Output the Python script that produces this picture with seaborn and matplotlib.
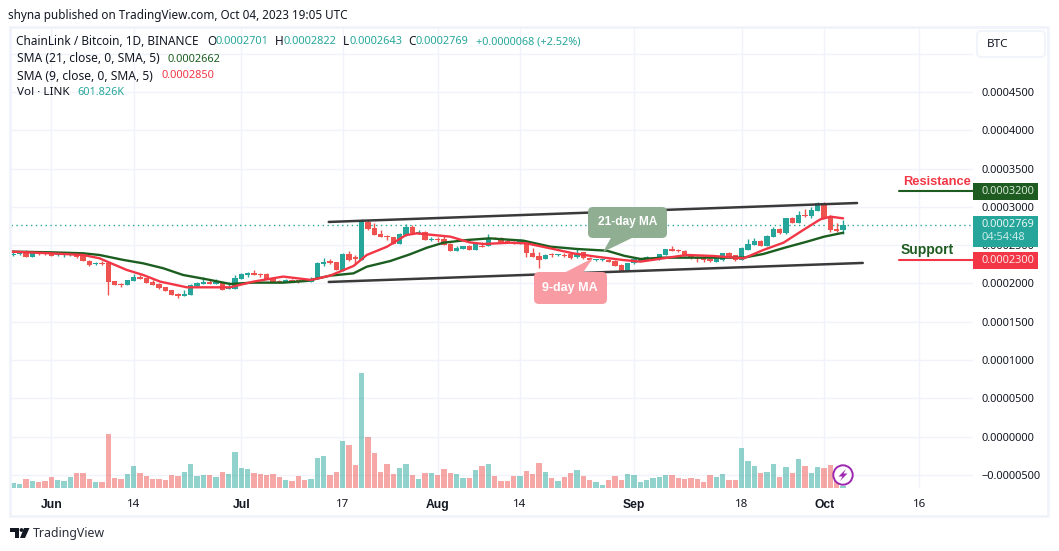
import numpy as np
import pandas as pd
import matplotlib
matplotlib.use("Agg")
import matplotlib.pyplot as plt
from matplotlib.patches import FancyBboxPatch, Polygon, Circle, Rectangle
import seaborn as sns

# prices in units of 1e-7 BTC, one entry per daily candle (26 May - 4 Oct 2023)
opens = [2368,2381,2394,2346,2403,2394,2403,2368,2372,2368,2385,2381,2294,2250,2272,2272,2033,1989,1981,2037,2081,2068,2020,1994,1955,1915,1863,1842,1850,1963,1998,2024,1998,2020,1933,1933,2059,2111,2137,2124,2124,2072,2033,2020,2046,2042,2046,2024,
         2058,2250,2289,2276,2167,2385,2350,2306,2806,2720,2646,2624,2602,2515,2633,2737,2646,2667,2572,2585,2580,2515,2428,2454,2489,2441,2493,2493,2598,2598,2559,2546,2519,2519,2402,2358,2319,2380,2367,2376,2385,2341,2406,2332,2302,2302,2306,2293,2241,2167,
         2263,2298,2307,2315,2315,2376,2446,2437,2428,2376,2337,2328,2320,2285,2307,2394,2367,2311,2437,2507,2554,2489,2611,2707,2654,2855,2794,2894,2885,2950,3046,2872,2707,2701]
highs = [2416,2407,2437,2407,2420,2403,2411,2398,2403,2403,2403,2394,2303,2285,2294,2285,2037,2011,2050,2124,2111,2076,2046,2002,1959,1920,1881,1915,1989,2016,2081,2055,2055,2024,2016,2111,2137,2155,2177,2142,2142,2090,2046,2059,2063,2046,2055,2081,
         2276,2328,2315,2284,2393,2424,2372,2837,2828,2785,2698,2633,2611,2654,2776,2763,2698,2685,2611,2611,2633,2524,2493,2489,2498,2532,2537,2646,2611,2602,2576,2559,2580,2528,2459,2415,2380,2402,2389,2393,2393,2445,2411,2341,2319,2328,2315,2302,2250,2267,
         2324,2328,2359,2346,2389,2454,2489,2446,2437,2380,2359,2337,2333,2337,2398,2407,2376,2472,2576,2589,2568,2628,2733,2720,2855,2872,2942,2968,2994,3059,3059,2894,2794,2822]
lows = [2364,2377,2346,2342,2372,2377,2359,2364,2350,2364,2329,2290,2229,2246,2242,1850,1976,1959,1976,2033,2059,2002,1976,1924,1898,1846,1815,1837,1846,1959,1994,1994,1994,1911,1929,1929,2055,2081,2107,2081,2055,2020,2011,2016,2024,2011,2029,2020,
        2054,2228,2254,2171,2163,2293,2241,2302,2698,2628,2606,2567,2511,2511,2624,2650,2641,2563,2554,2546,2502,2424,2424,2450,2437,2432,2472,2489,2576,2541,2528,2519,2515,2350,2345,2198,2315,2350,2354,2341,2324,2337,2315,2298,2293,2293,2276,2224,2163,2163,
        2259,2289,2302,2311,2311,2372,2424,2407,2363,2320,2276,2285,2280,2280,2298,2346,2298,2307,2433,2502,2489,2485,2607,2646,2650,2785,2785,2872,2850,2946,2855,2672,2676,2643]
closes = [2377,2394,2350,2403,2385,2381,2364,2390,2381,2394,2350,2294,2242,2272,2259,2024,1981,1981,2046,2090,2063,2007,1981,1942,1902,1850,1842,1863,1981,2007,2020,1998,2024,1915,1950,2068,2124,2137,2111,2107,2063,2024,2020,2046,2033,2024,2033,2059,
          2271,2284,2263,2176,2385,2306,2315,2815,2711,2633,2611,2602,2519,2646,2737,2654,2676,2572,2580,2572,2506,2428,2459,2485,2441,2515,2480,2598,2580,2546,2537,2528,2554,2402,2350,2306,2372,2367,2376,2363,2337,2398,2328,2306,2311,2311,2284,2232,2167,2263,
          2315,2315,2341,2333,2385,2446,2428,2420,2372,2328,2320,2307,2289,2328,2394,2350,2307,2459,2511,2559,2494,2620,2707,2654,2850,2794,2894,2885,2959,3046,2859,2698,2689,2769]
# volume in thousands of LINK
volumes = [1500,1200,2700,2100,1800,2100,3300,2400,2100,3300,4500,4500,2700,1800,1800,16200,3000,2700,4200,6600,4500,3600,2700,2700,2400,3900,3600,4800,7200,3600,3900,3900,3300,4800,4200,10800,6000,5700,4500,4200,3900,4200,3300,2400,2100,3600,2400,2700,
           9000,9600,3900,4800,14100,12900,6900,34500,15300,10500,4800,7200,4200,6000,7200,3900,2700,4500,4500,3900,5700,4500,4200,3000,3000,5400,6600,7200,3600,2100,2100,3600,3600,5100,4200,7500,4800,3000,2100,3300,4500,5400,3600,2400,1800,900,2400,3600,
           2400,4200,3900,1800,2400,3000,3300,3900,3900,3000,2700,3000,2700,1800,3900,3300,4200,2400,2400,12000,8100,6600,4500,4800,7200,3300,6300,4500,8700,6600,4500,6300,6000,6900,5400,600]
month_ticks = [6, 19, 36, 52, 67, 80, 98, 115, 128, 143]
month_labels = ["Jun", "14", "Jul", "17", "Aug", "14", "Sep", "18", "Oct", "16"]
bold_labels = ["Jun", "Jul", "Aug", "Sep", "Oct"]

sma21_days = [-0.4,5.8,11,13.6,17.4,20.5,23.7,26.8,30.5,34.2,37.9,42.6,46.3,50,53.7,55.8,59.5,62.6,65.3,67.9,71.6,75.2,80.5,84.8,89,93.7,96.5,99,102.6,106.3,110.5,115.3,118.4,122,125.3,128,131]
sma21_vals = [2416,2407,2394,2372,2307,2263,2198,2111,2055,1994,2011,2011,2033,2102,2132,2219,2293,2380,2467,2532,2567,2589,2559,2480,2450,2428,2360,2320,2337,2337,2337,2337,2385,2472,2546,2611,2662]
sma9_days = [-0.4,5.8,11,13.6,15.2,17.9,20.5,23.2,27.4,34.2,37.9,42.6,47,50,53.7,55.8,59,62,63.7,69,72,74.2,78.4,81,84.8,88.4,92,96.3,99,102.6,106.3,110.5,115.3,118.4,121.6,124.7,127.4,129,131]
sma9_vals = [2416,2394,2372,2329,2272,2177,2111,2024,1950,1950,2024,2090,2046,2102,2228,2372,2480,2632,2654,2611,2537,2515,2532,2524,2458,2393,2350,2306,2285,2328,2372,2359,2328,2437,2533,2698,2837,2872,2850]

channel_days = [49.8, 133.2]
channel_upper = [2803, 3050]
channel_low_days = [49.8, 134.1]
channel_lower = [2020, 2268]
last_price = 2769
price_ticks = list(range(-500, 5001, 500))

W, H = 1059, 551
UP, DOWN = "#26a69a", "#ef5350"
GRID = "#f0f3fa"
INK = "#131722"
FONT = ["Noto Sans", "DejaVu Sans"]
BOLD = ["Liberation Sans", "DejaVu Sans"]

sns.set_theme(style="white")
plt.rcParams["font.family"] = FONT

df = pd.DataFrame({"day": np.arange(len(opens)), "open": opens, "high": highs, "low": lows,
                   "close": closes, "volume": volumes})
df["dir"] = np.where(df["close"] >= df["open"], "up", "down")

fig = plt.figure(figsize=(W / 100, H / 100), dpi=100, facecolor="white")
L, R, T, B = 11, 973, 27, 488
ax = fig.add_axes([L / W, 1 - B / H, (R - L) / W, (B - T) / H])
ax.set_facecolor("white")
for s in ax.spines.values():
    s.set_visible(False)
xlim = (-0.36, 151.5)
ax.set_ylim(-669, 5347)

# grid
ax.set_axisbelow(True)
ax.grid(True, color=GRID, lw=1)

# candles
colors = df["dir"].map({"up": UP, "down": DOWN})
ax.vlines(df["day"], df["low"], df["high"], colors=colors, lw=1, zorder=3)
ax.bar(df["day"], (df["close"] - df["open"]).abs().clip(lower=12), bottom=df[["open", "close"]].min(axis=1),
       width=0.85, color=colors, zorder=4, linewidth=0)

# moving averages
sns.lineplot(x=sma21_days, y=sma21_vals, color="#1b5e20", lw=1.7, ax=ax, zorder=5, estimator=None, sort=False)
sns.lineplot(x=sma9_days, y=sma9_vals, color="#f23645", lw=1.7, ax=ax, zorder=5, estimator=None, sort=False)

# channel and last-price line
sns.lineplot(x=channel_days, y=channel_upper, color="#3a3a3a", lw=1.8, ax=ax, zorder=6, estimator=None)
sns.lineplot(x=channel_low_days, y=channel_lower, color="#3a3a3a", lw=1.8, ax=ax, zorder=6, estimator=None)
ax.axhline(last_price, color=UP, lw=1, ls=(0, (1, 2.5)), zorder=2)

# volume on its own hidden scale
axv = ax.twinx()
sns.barplot(data=df, x="day", y="volume", hue="dir", palette={"up": UP, "down": DOWN}, native_scale=True,
            dodge=False, width=0.85, saturation=1, alpha=0.5, legend=False, ax=axv, linewidth=0)
axv.set_ylim(0, 138300)
axv.set_yticks([])
axv.set_ylabel("")
axv.set_xlabel("")
for s in axv.spines.values():
    s.set_visible(False)
ax.set_xlim(*xlim)
axv.set_xlim(*xlim)

# ticks (after twinx, which would move them)
def fmt(v):
    if v == 5000:
        return ""
    s = f"{abs(v) * 1e-7:.7f}"
    return ("\u2212" + s) if v < 0 else s
ax.yaxis.tick_right()
ax.set_yticks(price_ticks)
ax.set_yticklabels([fmt(v) for v in price_ticks], fontsize=7.9, color=INK)
ax.tick_params(axis="y", length=0, pad=5.8, right=False, labelright=True, labelleft=False)
ax.set_xticks(month_ticks)
ax.set_xticklabels(month_labels, fontsize=8.3, color=INK)
ax.tick_params(axis="x", length=0, pad=8)
for lab in ax.get_xticklabels():
    if lab.get_text() in bold_labels:
        lab.set_fontweight("bold")
        lab.set_fontfamily(BOLD)
        lab.set_fontsize(8.7)
ax.set_xlabel("")
ax.set_ylabel("")

# overlay in picture pixels: frame, labels, callouts
ov = fig.add_axes([0, 0, 1, 1], zorder=10)
ov.set_xlim(0, W)
ov.set_ylim(H, 0)
ov.axis("off")
ov.patch.set_alpha(0)

ov.add_patch(Rectangle((10, 26.5), 1038, 489, fill=False, ec=GRID, lw=2))

def label(x, y, s, color=INK, size=8.6, weight="normal", ha="left", z=3):
    fam = BOLD if weight == "bold" else FONT
    ov.text(x, y, s, color=color, fontsize=size, fontweight=weight, ha=ha, va="center", zorder=z, family=fam)

label(8, 15, "shyna published on TradingView.com, Oct 04, 2023 19:05 UTC", size=8.45)
label(16, 41.5, "ChainLink / Bitcoin, 1D, BINANCE", size=8.5)
for x, head, val in [(207, "O", "0.0002701"), (275, "H", "0.0002822"), (343, "L", "0.0002643"), (408, "C", "0.0002769")]:
    label(x, 41.5, head, size=8.5)
    label(x + 8 - (2 if head == "L" else 0), 41.5, val, color=UP, size=7.9)
label(476, 41.5, "+0.0000068 (+2.52%)", color=UP, size=7.85)
label(17, 59, "SMA (21, close, 0, SMA, 5)", size=8.7)
label(168, 59, "0.0002662", color="#1b5e20", size=7.9)
label(17, 76, "SMA (9, close, 0, SMA, 5)", size=8.7)
label(162, 76, "0.0002850", color="#f23645", size=7.9)
label(17, 92.5, "Vol \u00b7 LINK", size=8.4)
label(77, 92.5, "601.826K", color=UP, size=7.9)

# currency button
ov.add_patch(FancyBboxPatch((979, 33), 64, 22, boxstyle="round,pad=2,rounding_size=4", fc="white", ec=GRID, lw=1.3))
label(987, 44.5, "BTC", size=8.4)

# right-hand price tags
ov.add_patch(Rectangle((973, 216), 65, 31, fc=UP, ec="none", zorder=5))
label(981, 224.5, "0.0002769", color="#e8f7f5", size=7.9, z=6)
label(981, 238, "04:54:48", color="#c5ece8", size=7.9, z=6)
ov.add_patch(Rectangle((973, 183), 65, 17, fc="#1e5b20", ec="none", zorder=5))
label(981, 191.5, "0.0003200", color="#d5e6d6", size=7.9, z=6)
ov.add_patch(Rectangle((973, 252), 65, 17, fc="#f23645", ec="none", zorder=5))
label(981, 260.5, "0.0002300", color="#fde3e5", size=7.9, z=6)
ov.plot([899, 973], [191, 191], color="#1e5b20", lw=1.5)
ov.plot([899, 973], [260, 260], color="#f23645", lw=1.5)
label(903, 182, "Resistance", color="#f23645", size=9.3, weight="bold")
label(901, 250, "Support", color="#1e5b20", size=10, weight="bold")

# callouts
ov.add_patch(Polygon([(612, 236), (636, 236), (603, 252)], fc="#8fae92", ec="none"))
ov.add_patch(FancyBboxPatch((592, 211), 71, 23, boxstyle="round,pad=4,rounding_size=5", fc="#8fae92", ec="none"))
ov.text(628, 222.5, "21-day MA", color="white", fontsize=8.6, fontweight="bold", ha="center", va="center", family=BOLD)
ov.add_patch(Polygon([(562, 274), (582, 274), (593, 258)], fc="#f89ba3", ec="none"))
ov.add_patch(FancyBboxPatch((538, 276), 65, 24, boxstyle="round,pad=4,rounding_size=5", fc="#f89ba3", ec="none"))
ov.text(570, 288, "9-day MA", color="white", fontsize=9, fontweight="bold", ha="center", va="center", family=BOLD)

# lightning icon
ov.add_patch(Circle((843, 475), 9.7, fc="white", ec="#9c27b0", lw=1.4, zorder=4))
ov.add_patch(Polygon([(846, 469), (838.5, 476.5), (842.5, 476.5), (840, 481), (847.5, 473.5), (843.5, 473.5)],
                     fc="#9c27b0", ec="none", zorder=5))

# TradingView logo
ov.add_patch(Polygon([(10, 528), (19, 528), (19, 538), (15, 538), (15, 532), (10, 532)], fc=INK, ec="none"))
ov.add_patch(Circle((21.5, 530), 1.9, fc=INK, ec="none"))
ov.add_patch(Polygon([(24, 528), (29.5, 528), (25, 538), (20, 538)], fc=INK, ec="none"))
label(33, 533.5, "TradingView", size=8.9, color="#2a2e39")

fig.savefig("out.png", dpi=100, facecolor="white")
